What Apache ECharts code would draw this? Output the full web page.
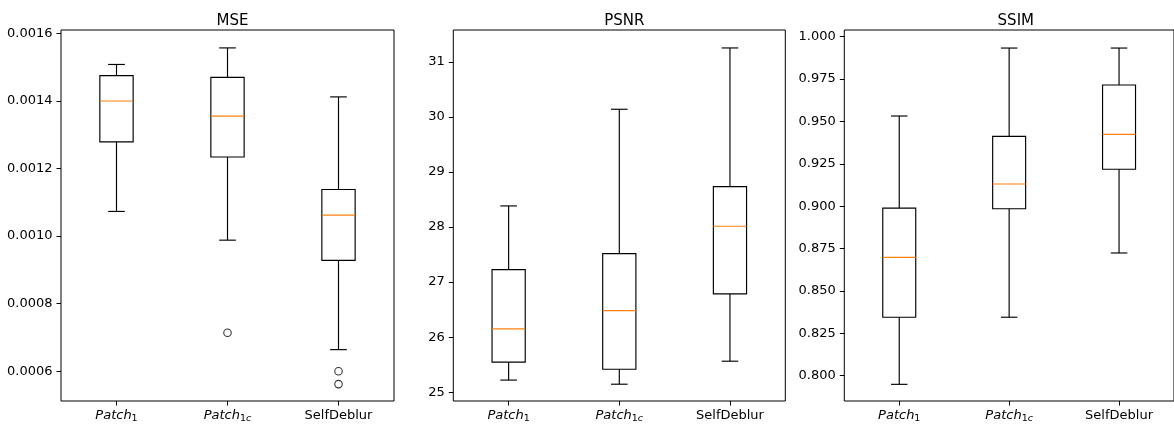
<!DOCTYPE html>
<html>
<head>
<meta charset="utf-8">
<script src="https://cdn.jsdelivr.net/npm/echarts@6/dist/echarts.min.js"></script>
<style>
html,body{margin:0;padding:0;background:#fff;}
#chart{width:1174px;height:425px;}
</style>
</head>
<body>
<div id="chart"></div>
<script>
// ---- data ----
const categories = ['Patch_1', 'Patch_1c', 'SelfDeblur'];
const panelTitles = ['MSE', 'PSNR', 'SSIM'];

// [min, Q1, median, Q3, max] per category
const mseBox = [
  [0.001073, 0.001279, 0.001400, 0.001475, 0.001508],
  [0.000988, 0.001234, 0.001355, 0.001470, 0.001557],
  [0.000664, 0.000928, 0.001062, 0.001138, 0.001412]
];
const mseOutliers = [[1, 0.000714], [2, 0.000600], [2, 0.000562]];

const psnrBox = [
  [25.220, 25.545, 26.150, 27.227, 28.384],
  [25.145, 25.417, 26.483, 27.518, 30.140],
  [25.563, 26.786, 28.015, 28.735, 31.254]
];
const psnrOutliers = [];

const ssimBox = [
  [0.7949, 0.8345, 0.8698, 0.8989, 0.9532],
  [0.8345, 0.8985, 0.9131, 0.9412, 0.9933],
  [0.8724, 0.9218, 0.9424, 0.9715, 0.9933]
];
const ssimOutliers = [];

const mseTicks = [0.0006, 0.0008, 0.0010, 0.0012, 0.0014, 0.0016];
const psnrTicks = [25, 26, 27, 28, 29, 30, 31];
const ssimTicks = [0.800, 0.825, 0.850, 0.875, 0.900, 0.925, 0.950, 0.975, 1.000];

const mseRange = [0.000512, 0.00161];
const psnrRange = [24.84, 31.58];
const ssimRange = [0.78507, 1.00395];

// ---- layout / style ----
const FONT = 'DejaVu Sans';
const grids = [
  {left: 61, top: 30, width: 333, height: 371},
  {left: 453.3, top: 30, width: 332, height: 371},
  {left: 844.3, top: 30, width: 333, height: 371}
];
const decimals = [4, 0, 3];
const ticksList = [mseTicks, psnrTicks, ssimTicks];
const ranges = [mseRange, psnrRange, ssimRange];
const boxes = [mseBox, psnrBox, ssimBox];
const outliers = [mseOutliers, psnrOutliers, ssimOutliers];

const labelRich = {
  i: {fontFamily: FONT, fontStyle: 'italic', fontSize: 13, color: '#000', lineHeight: 16},
  n: {fontFamily: FONT, fontSize: 13, color: '#000', lineHeight: 16},
  s: {fontFamily: FONT, fontSize: 9.5, color: '#000', lineHeight: 10, verticalAlign: 'bottom'},
  si: {fontFamily: FONT, fontStyle: 'italic', fontSize: 9.5, color: '#000', lineHeight: 10, verticalAlign: 'bottom'}
};
function catLabel(v) {
  if (v === 'Patch_1') return '{i|Patch}{s|1}';
  if (v === 'Patch_1c') return '{i|Patch}{s|1}{si|c}';
  return '{n|' + v + '}';
}

function renderBox(params, api) {
  const x = api.value(0);
  const vals = [api.value(1), api.value(2), api.value(3), api.value(4), api.value(5)];
  const band = api.size([1, 0])[0];
  const bw = band * 0.3, cw = band * 0.15;
  const p = vals.map(v => api.coord([x, v]));
  const cx = p[2][0];
  const stroke = {stroke: '#000', lineWidth: 1.15, fill: 'none'};
  const line = (x1, y1, x2, y2, st) => ({type: 'line', shape: {x1, y1, x2, y2}, style: st || stroke});
  return {
    type: 'group',
    children: [
      line(cx, p[0][1], cx, p[1][1]),
      line(cx, p[3][1], cx, p[4][1]),
      line(cx - cw / 2, p[0][1], cx + cw / 2, p[0][1]),
      line(cx - cw / 2, p[4][1], cx + cw / 2, p[4][1]),
      {type: 'rect', shape: {x: cx - bw / 2, y: p[3][1], width: bw, height: p[1][1] - p[3][1]}, style: stroke},
      line(cx - bw / 2, p[2][1], cx + bw / 2, p[2][1], {stroke: '#ff7f0e', lineWidth: 1.15})
    ]
  };
}

const option = {
  animation: false,
  backgroundColor: '#fff',
  title: panelTitles.map((t, i) => ({
    text: t,
    left: grids[i].left + grids[i].width / 2,
    top: 8.5,
    textAlign: 'center',
    textStyle: {fontFamily: FONT, fontSize: 15, fontWeight: 'normal', color: '#000'}
  })),
  grid: grids.map(g => Object.assign({show: true, borderColor: '#000', borderWidth: 1, backgroundColor: 'transparent', containLabel: false}, g)),
  xAxis: grids.map((g, i) => ({
    type: 'category',
    gridIndex: i,
    data: categories,
    boundaryGap: true,
    axisLine: {show: false},
    axisTick: {show: true, alignWithLabel: true, length: 4.5, lineStyle: {color: '#000', width: 1}},
    axisLabel: {interval: 0, margin: 7, formatter: catLabel, rich: labelRich},
    splitLine: {show: false}
  })),
  yAxis: grids.map((g, i) => ({
    type: 'value',
    gridIndex: i,
    min: ranges[i][0],
    max: ranges[i][1],
    axisLine: {show: false},
    axisTick: {show: true, length: 4.5, customValues: ticksList[i], lineStyle: {color: '#000', width: 1}},
    axisLabel: {
      customValues: ticksList[i],
      margin: 8.5,
      fontFamily: FONT, fontSize: 13, color: '#000',
      formatter: v => Number(v).toFixed(decimals[i])
    },
    splitLine: {show: false}
  })),
  series: []
};

boxes.forEach((b, i) => {
  option.series.push({
    type: 'custom',
    xAxisIndex: i, yAxisIndex: i,
    renderItem: renderBox,
    encode: {x: 0, y: [1, 2, 3, 4, 5]},
    data: b.map((r, k) => [k].concat(r)),
    z: 2
  });
  option.series.push({
    type: 'scatter',
    xAxisIndex: i, yAxisIndex: i,
    symbol: 'circle',
    symbolSize: 7.5,
    itemStyle: {color: 'transparent', borderColor: '#000', borderWidth: 1.1},
    data: outliers[i],
    z: 3
  });
});

const chart = echarts.init(document.getElementById('chart'), null, {renderer: 'canvas'});
chart.setOption(option);
</script>
</body>
</html>
